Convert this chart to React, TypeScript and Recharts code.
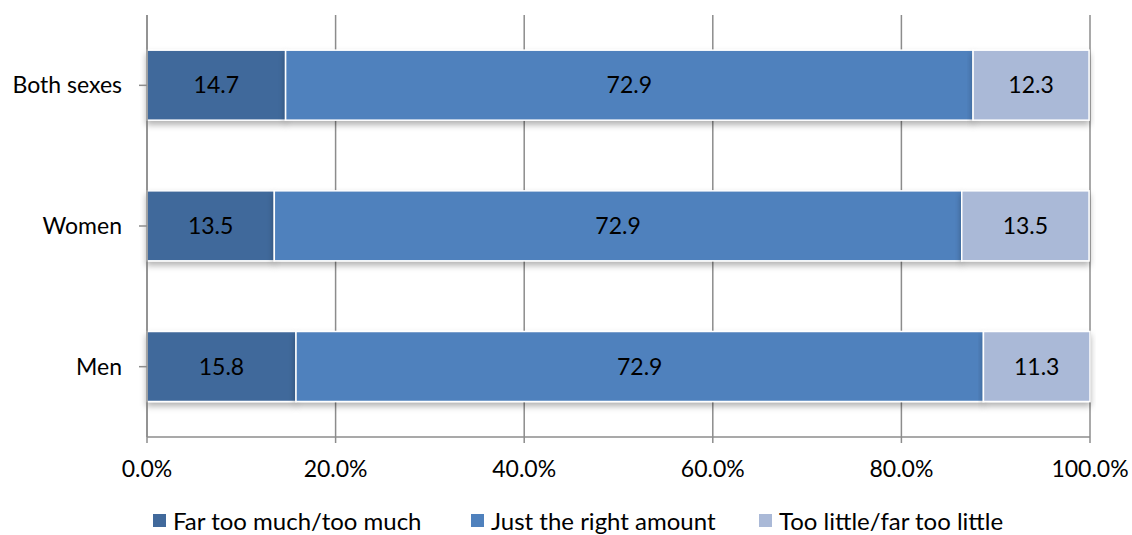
import { BarChart, Bar, XAxis, YAxis, CartesianGrid, LabelList } from "recharts";

const groups = ["Both sexes", "Women", "Men"];
const farTooMuch = [14.7, 13.5, 15.8];
const justRight = [72.9, 72.9, 72.9];
const tooLittle = [12.3, 13.5, 11.3];
const xTicks = [0, 20, 40, 60, 80, 100];

const series = [
  { key: "much", label: "Far too much/too much", color: "#41699b" },
  { key: "right", label: "Just the right amount", color: "#4f81bd" },
  { key: "little", label: "Too little/far too little", color: "#aab9d7" },
];

const data = groups.map((g, i) => ({
  name: g,
  much: farTooMuch[i],
  right: justRight[i],
  little: tooLittle[i],
}));

const font = "Lato, 'Open Sans', sans-serif";

function LegendRow() {
  const offsets = [153, 471, 759];
  return (
    <div style={{ position: "absolute", left: 0, top: 505, height: 30, width: 1132, fontFamily: font, fontSize: 24, color: "#000" }}>
      {series.map((s, i) => (
        <div key={s.key} style={{ position: "absolute", left: offsets[i], top: 0, height: 30, display: "flex", alignItems: "center", whiteSpace: "nowrap" }}>
          <span style={{ display: "inline-block", width: 13, height: 13, background: s.color, marginRight: 7 }} />
          <span>{s.label}</span>
        </div>
      ))}
    </div>
  );
}

const ShadowRect = (props: any) => {
  const { x, y, width, height, fill } = props;
  return (
    <rect x={x} y={y} width={width} height={height} fill={fill} stroke="#ffffff" strokeWidth={1.5} filter="url(#barShadow)" />
  );
};

export default function App() {
  return (
    <div style={{ position: "absolute", top: 0, left: 0, width: 1132, height: 535, overflow: "hidden", background: "#fff" }}>
      <BarChart
        width={1132}
        height={535}
        data={data}
        layout="vertical"
        margin={{ top: 15, right: 42, bottom: 29, left: 0 }}
        barCategoryGap="25%"
      >
        <defs>
          <filter id="barShadow" x="-5%" y="-20%" width="110%" height="160%">
            <feDropShadow dx="0" dy="4" stdDeviation="3" floodColor="#000" floodOpacity="0.3" />
          </filter>
        </defs>
        <CartesianGrid horizontal={false} stroke="#8c8c8c" strokeWidth={1.5} />
        <XAxis
          type="number"
          domain={[0, 100]}
          ticks={xTicks}
          tickFormatter={(v: number) => v.toFixed(1) + "%"}
          stroke="#8c8c8c"
          strokeWidth={1.5}
          tickSize={6}
          tickMargin={18}
          height={69}
          tick={{ fill: "#000", fontSize: 23, fontFamily: font }}
        />
        <YAxis
          type="category"
          dataKey="name"
          width={147}
          stroke="#8c8c8c"
          strokeWidth={1.5}
          tickSize={8}
          tickMargin={17}
          tick={{ fill: "#000", fontSize: 23, fontFamily: font }}
        />
        {series.map((s) => (
          <Bar key={s.key} dataKey={s.key} stackId="a" fill={s.color} shape={ShadowRect} isAnimationActive={false}>
            <LabelList dataKey={s.key} position="center" fill="#000" fontSize={23} fontFamily={font} formatter={(v: any) => Number(v).toFixed(1)} />
          </Bar>
        ))}
      </BarChart>
      <LegendRow />
    </div>
  );
}
